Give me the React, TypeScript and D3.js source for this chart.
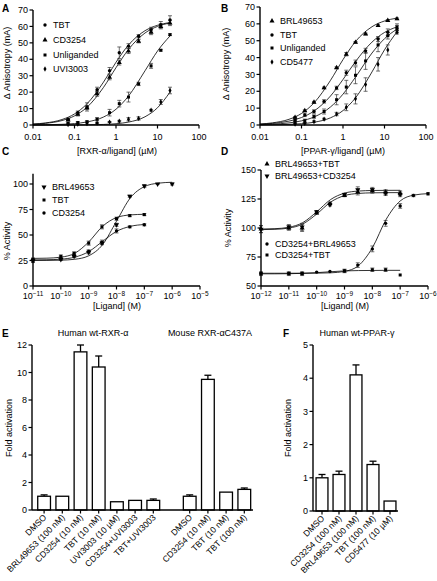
import React from 'react';
import * as d3 from 'd3';

// ---------- Panel A / B data (concentrations in µM) ----------
const concAB = [0.07, 0.12, 0.2, 0.35, 0.7, 1.2, 2, 3.5, 7, 12, 20];
const fitGridAB = [0.01, 0.02, 0.05, 0.1, 0.2, 0.5, 1, 2, 5, 10, 20];

const tbtA = [3.5, 7.5, 11, 21.5, 33, 44, 48, 54, 58, 61, 64];
const tbtAErr = [0.5, 1, 2.5, 1.5, 2, 3.5, 1.5, 1, 1.5, 2, 2.5];
const tbtAFit = [0.59, 1.26, 3.33, 6.74, 12.9, 26.1, 38.2, 48.7, 57.4, 60.7, 62.4];
const cd3254A = [3, 6.5, 10.5, 19, 29, 38, 45, 51, 56.5, 60, 62];
const cd3254AErr = [0.5, 1, 1, 1.5, 1.5, 1.5, 1.5, 1, 1.5, 1.5, 1.5];
const cd3254AFit = [0.48, 1.02, 2.71, 5.56, 10.8, 22.9, 34.9, 46.0, 56.0, 60.0, 62.1];
const unligA = [1, 1.5, 2, 3.5, 7.5, 13, 17, 25, 36, 45.5, 55];
const unligAErr = [0.3, 0.5, 0.5, 1, 2, 2, 3, 1, 1.5, 0.5, 0.5];
const unligAFit = [0.07, 0.15, 0.41, 0.88, 1.86, 4.86, 9.6, 17.6, 33, 45.0, 54.2];
const uviA = [0.3, 0.5, 0.8, 1.2, 1.8, 2.3, 3.5, 4, 9, 14, 21];
const uviAErr = [0, 0, 0, 0.3, 0.3, 0.5, 1, 1, 0.5, 1.5, 2];
const uviAFit = [0, 0.01, 0.02, 0.05, 0.11, 0.34, 0.78, 1.76, 5.0, 10.5, 20.0];

const brlB = [4.5, 8.5, 13.5, 22, 34, 42, 49, 54, 59, 62, 63];
const brlBErr = [0.5, 0.5, 0.5, 0.5, 0.5, 1, 0.5, 0.5, 0.5, 0.5, 0.5];
const brlBFit = [0.6, 1.28, 3.38, 6.85, 13.1, 26.5, 38.8, 49.5, 58.3, 61.7, 63.4];
const tbtB = [3, 6, 8, 14, 22, 31, 37, 44, 51, 55, 57];
const tbtBErr = [0.5, 1, 1, 1, 1, 1.5, 1.5, 1.5, 1.5, 2, 2];
const tbtBFit = [0.47, 0.94, 2.3, 4.43, 8.27, 17.2, 27.0, 37.6, 49.2, 54.9, 58.2];
const unligB = [1.5, 2.5, 5, 8, 15, 22.5, 29.5, 38, 47.5, 53, 58];
const unligBErr = [0.5, 1, 1, 1.5, 3, 4, 5, 5, 4, 2, 2];
const unligBFit = [0.25, 0.51, 1.25, 2.46, 4.74, 10.7, 18.3, 28.4, 42.7, 51.2, 56.9];
const cd5477B = [0.5, 1, 2, 3.5, 6.5, 10.5, 15.5, 24, 36, 44.5, 55];
const cd5477BErr = [0, 0.5, 0.5, 0.5, 1, 2, 3, 4, 4, 3, 1];
const cd5477BFit = [0.06, 0.13, 0.36, 0.77, 1.62, 4.27, 8.56, 16.1, 31.5, 44.6, 55.3];

const abTicks = [0.01, 0.1, 1, 10, 100];
const abTickLabels = ['0.01', '0.1', '1', '10', '100'];

// ---------- Panel C data (M) ----------
const concC = [1e-11, 1e-10, 3e-10, 1e-9, 3e-9, 1e-8, 3e-8, 1e-7, 3e-7, 1e-6];
const brlC = [25, 26, 29, 33, 42, 60, 88, 98, 100, 100];
const brlCErr = [2, 1, 1, 1.5, 1.5, 1.5, 1, 1.5, 0.5, 1];
const concC2 = [1e-11, 1e-10, 3e-10, 1e-9, 3e-9, 1e-8, 3e-8, 1e-7];
const tbtC = [26, 29, 32, 42, 58, 66, 69, 70];
const tbtCErr = [1.5, 1.5, 1.5, 2, 2, 1.5, 1, 1];
const cd3254C = [25, 27, 30, 34, 43, 54, 58, 60];
const cd3254CErr = [1.5, 1.5, 1.5, 1.5, 2, 2, 1, 1];
const fitGridCExp = [-11, -10.5, -10, -9.5, -9, -8.5, -8, -7.5, -7, -6.5, -6];
const brlCFit = [25.02, 25.08, 25.31, 26.2, 29.6, 40.5, 63.5, 86.5, 97.4, 100.8, 101.7];
const tbtCFit = [27.06, 27.29, 28.25, 32.08, 43.15, 58.5, 67.1, 69.7, 70.3];
const cd3254CFit = [25.57, 25.74, 26.32, 28.25, 33.66, 43.76, 53.54, 58.5, 60.27];
const cTickExp = [-11, -10, -9, -8, -7, -6, -5];
const cYTicks = [0, 25, 50, 75, 100];

// ---------- Panel D data (M) ----------
const concD = [1e-12, 1e-11, 3e-11, 1e-10, 3e-10, 1e-9, 3e-9, 1e-8, 3e-8, 1e-7];
const brlTbtD = [99, 100, 100, 113, 121, 128, 131, 132, 131, 130];
const brlTbtDErr = [3, 2, 3, 1, 1, 1, 2.5, 2, 2, 2];
const brlCdD = [99, 101, 101, 114, 120, 129, 133, 133, 130, 129];
const brlCdDErr = [3, 2, 3, 1, 1, 1, 2.5, 2, 2, 2];
const concD2 = [1e-12, 1e-11, 3e-11, 1e-10, 3e-10, 1e-9, 3e-9, 1e-8, 3e-8, 1e-7, 3e-7, 1e-6];
const cdBrlD = [61, 61, 61, 62, 62.5, 63, 68, 82, 104, 119, 128, 129.5];
const cdBrlDErr = [1, 1, 1, 0, 0, 1, 2, 2.5, 2.5, 2, 1, 1];
const concD3 = [1e-12, 1e-11, 3e-11, 1e-9, 1e-8, 3e-8, 1e-7];
const cdTbtD = [60.5, 60.5, 60.5, 63, 64, 64, 59.5];
const cdTbtDErr = [1.5, 1.5, 1.5, 1.5, 1.5, 1.5, 0];
const fitGridDExp = [-12, -11.5, -11, -10.5, -10, -9.5, -9, -8.5, -8, -7.5, -7, -6.5, -6];
const brlTbtDFit = [98.59, 98.87, 99.91, 103.45, 112.0, 122.3, 127.95, 129.8, 130.33, 130.46, 130.5];
const brlCdDFit = [99.11, 99.42, 100.62, 104.63, 113.92, 124.51, 130.06, 131.85, 132.33, 132.46, 132.5];
const cdBrlDFit = [61.0, 61.0, 61.0, 61.02, 61.08, 61.36, 62.58, 67.5, 82.9, 107.6, 123.3, 128.4, 129.6];
const cdTbtDFit = [60.5, 60.5, 60.6, 60.9, 61.5, 62.3, 63.0, 63.3, 63.4, 63.5, 63.5];
const dTickExp = [-12, -11, -10, -9, -8, -7, -6];
const dYTicks = [50, 75, 100, 125, 150];

// ---------- Panel E / F data ----------
const eHumanLabels = ['DMSO', 'BRL49653 (100 nM)', 'CD3254 (10 nM)', 'TBT (10 nM)', 'UVI3003 (10 µM)', 'CD3254+UVI3003', 'TBT+UVI3003'];
const eHumanValues = [1.0, 1.0, 11.5, 10.4, 0.6, 0.7, 0.7];
const eHumanErr = [0.1, 0, 0.5, 0.8, 0, 0, 0.1];
const eMouseLabels = ['DMSO', 'CD3254 (10 nM)', 'TBT (10 nM)', 'TBT (100 nM)'];
const eMouseValues = [1.0, 9.5, 1.3, 1.5];
const eMouseErr = [0.1, 0.3, 0, 0.1];
const eYTicks = [0, 2, 4, 6, 8, 10, 12];
const fLabels = ['DMSO', 'CD3254 (100 nM)', 'BRL49653 (100 nM)', 'TBT (100 nM)', 'CD5477 (10 µM)'];
const fValues = [1.0, 1.1, 4.1, 1.4, 0.3];
const fErr = [0.1, 0.1, 0.3, 0.1, 0];
const fYTicks = [0, 1, 2, 3, 4, 5];

const FONT = '"Liberation Sans", Arial, Helvetica, sans-serif';
const FS = 9;

type Pt = { c: number; v: number; e: number };
type Series = { pts: Pt[]; fit: [number, number][]; shape: string };

const zip = (xs: number[], ys: number[], es: number[]): Pt[] => xs.map((c, i) => ({ c, v: ys[i], e: es[i] }));
const zipFit = (xs: number[], ys: number[]): [number, number][] => ys.map((v, i) => [xs[i], v]);
const pow10 = (ks: number[]) => ks.map((k) => Math.pow(10, k));

function Marker({ shape, x, y }: { shape: string; x: number; y: number }) {
  const map: Record<string, [d3.SymbolType, number]> = {
    circle: [d3.symbolCircle, 9],
    triangle: [d3.symbolTriangle, 11],
    tridown: [d3.symbolTriangle, 11],
    square: [d3.symbolSquare, 9],
    diamond: [d3.symbolDiamond, 8],
  };
  const [t, s] = map[shape];
  const d = d3.symbol().type(t).size(s)() as string;
  return <path d={d} transform={`translate(${x},${y})${shape === 'tridown' ? ' rotate(180)' : ''}`} fill="#000" />;
}

function Sup({ x, y, exp }: { x: number; y: number; exp: number }) {
  return (
    <text x={x} y={y} textAnchor="middle" fontSize={FS}>
      10<tspan dy={-3.5} fontSize={6.5}>{'\u2212' + Math.abs(exp)}</tspan>
    </text>
  );
}

type PanelProps = {
  x0: number; x1: number; yb: number; yt: number;
  xDom: [number, number]; yDom: [number, number]; yAxisTop: number;
  yTicks: number[]; xTicks: number[]; xLabel: (v: number, i: number, x: number) => React.ReactNode;
  series: Series[];
  legend: { shape: string; text: string; x: number; y: number }[];
  xTitle: string; xTitleX: number; xTitleY: number;
  yTitle: string; yTitleX: number; yTitleY: number;
  letter: string; letterX: number; letterY: number;
};

function CurvePanel(p: PanelProps) {
  const x = d3.scaleLog().domain(p.xDom).range([p.x0, p.x1]);
  const y = d3.scaleLinear().domain(p.yDom).range([p.yb, p.yt]);
  const line = d3.line<[number, number]>().x((d) => x(d[0])).y((d) => y(d[1])).curve(d3.curveMonotoneX);
  const yBase = y(p.yDom[0]);
  return (
    <g>
      <text x={p.letterX} y={p.letterY} fontWeight="bold" fontSize={10}>{p.letter}</text>
      {p.series.map((s, i) => (
        <path key={'f' + i} d={line(s.fit) as string} fill="none" stroke="#000" strokeWidth={0.8} />
      ))}
      {p.series.map((s, i) =>
        s.pts.filter((d) => d.e > 0).map((d, j) => {
          const cx = x(d.c);
          const ya = y(d.v - d.e), yb = y(d.v + d.e);
          return (
            <g key={'e' + i + '-' + j} stroke="#333" strokeWidth={0.7}>
              <line x1={cx} x2={cx} y1={ya} y2={yb} />
              <line x1={cx - 2} x2={cx + 2} y1={ya} y2={ya} />
              <line x1={cx - 2} x2={cx + 2} y1={yb} y2={yb} />
            </g>
          );
        })
      )}
      {p.series.map((s, i) =>
        s.pts.map((d, j) => <Marker key={'m' + i + '-' + j} shape={s.shape} x={x(d.c)} y={y(d.v)} />)
      )}
      <line x1={p.x0} x2={p.x0} y1={yBase} y2={y(p.yAxisTop)} stroke="#000" strokeWidth={1.4} />
      <line x1={p.x0} x2={p.x1} y1={yBase} y2={yBase} stroke="#000" strokeWidth={1.4} />
      {p.yTicks.map((t) => (
        <g key={'yt' + t}>
          <line x1={p.x0 - 3.5} x2={p.x0} y1={y(t)} y2={y(t)} stroke="#000" strokeWidth={1.2} />
          <text x={p.x0 - 5} y={y(t) + 3.2} textAnchor="end" fontSize={FS}>{t}</text>
        </g>
      ))}
      {p.xTicks.map((t, i) => (
        <g key={'xt' + t}>
          <line x1={x(t)} x2={x(t)} y1={yBase} y2={yBase + 3.5} stroke="#000" strokeWidth={1.2} />
          {p.xLabel(t, i, x(t))}
        </g>
      ))}
      <text x={p.xTitleX} y={p.xTitleY} textAnchor="middle" fontSize={FS}>{p.xTitle}</text>
      <text transform={`translate(${p.yTitleX},${p.yTitleY}) rotate(-90)`} textAnchor="middle" fontSize={FS}>{p.yTitle}</text>
      {p.legend.map((l, i) => (
        <g key={'l' + i}>
          <Marker shape={l.shape} x={l.x} y={l.y} />
          <text x={l.x + 8} y={l.y + 3.2} fontSize={FS}>{l.text}</text>
        </g>
      ))}
    </g>
  );
}

type BarProps = {
  keys: string[]; labels: string[]; values: (number | null)[]; errs: number[];
  xl: number; xr: number; axisX: number; axisRight: number; yb: number; yt: number; yMax: number; yTicks: number[];
  yTitleX: number; yTitleY: number;
};

function BarPanel(p: BarProps) {
  const x = d3.scaleBand<string>().domain(p.keys).range([p.xl, p.xr]).paddingInner(0.3).paddingOuter(0.15);
  const y = d3.scaleLinear().domain([0, p.yMax]).range([p.yb, p.yt]);
  const bw = x.bandwidth();
  return (
    <g>
      {p.keys.map((k, i) => {
        const v = p.values[i];
        if (v === null) return null;
        const bx = x(k) as number;
        const cx = bx + bw / 2;
        const top = y(v);
        const e = p.errs[i];
        return (
          <g key={k}>
            {e > 0 && (
              <g stroke="#000" strokeWidth={1.3}>
                <line x1={cx} x2={cx} y1={top} y2={y(v + e)} />
                <line x1={cx - 3.5} x2={cx + 3.5} y1={y(v + e)} y2={y(v + e)} />
              </g>
            )}
            <rect x={bx} y={top} width={bw} height={y(0) - top} fill="#fff" stroke="#000" strokeWidth={1.3} />
            <line x1={cx} x2={cx} y1={y(0)} y2={y(0) + 3.5} stroke="#000" strokeWidth={1.2} />
            <text transform={`translate(${cx + 3},${y(0) + 8}) rotate(-45)`} textAnchor="end" fontSize={8.6}>{p.labels[i]}</text>
          </g>
        );
      })}
      <line x1={p.axisX} x2={p.axisX} y1={y(0)} y2={y(p.yMax)} stroke="#000" strokeWidth={1.4} />
      <line x1={p.axisX} x2={p.axisRight} y1={y(0)} y2={y(0)} stroke="#000" strokeWidth={1.4} />
      {p.yTicks.map((t) => (
        <g key={'t' + t}>
          <line x1={p.axisX - 3.5} x2={p.axisX} y1={y(t)} y2={y(t)} stroke="#000" strokeWidth={1.2} />
          <text x={p.axisX - 5} y={y(t) + 3.2} textAnchor="end" fontSize={FS}>{t}</text>
        </g>
      ))}
      <text transform={`translate(${p.yTitleX},${p.yTitleY}) rotate(-90)`} textAnchor="middle" fontSize={FS}>Fold activation</text>
    </g>
  );
}

export default function App() {
  const seriesA: Series[] = [
    { pts: zip(concAB, tbtA, tbtAErr), fit: zipFit(fitGridAB, tbtAFit), shape: 'circle' },
    { pts: zip(concAB, cd3254A, cd3254AErr), fit: zipFit(fitGridAB, cd3254AFit), shape: 'triangle' },
    { pts: zip(concAB, unligA, unligAErr), fit: zipFit(fitGridAB, unligAFit), shape: 'square' },
    { pts: zip(concAB, uviA, uviAErr), fit: zipFit(fitGridAB, uviAFit), shape: 'diamond' },
  ];
  const seriesB: Series[] = [
    { pts: zip(concAB, brlB, brlBErr), fit: zipFit(fitGridAB, brlBFit), shape: 'triangle' },
    { pts: zip(concAB, tbtB, tbtBErr), fit: zipFit(fitGridAB, tbtBFit), shape: 'circle' },
    { pts: zip(concAB, unligB, unligBErr), fit: zipFit(fitGridAB, unligBFit), shape: 'square' },
    { pts: zip(concAB, cd5477B, cd5477BErr), fit: zipFit(fitGridAB, cd5477BFit), shape: 'diamond' },
  ];
  const gC = pow10(fitGridCExp);
  const seriesC: Series[] = [
    { pts: zip(concC, brlC, brlCErr), fit: zipFit(gC, brlCFit), shape: 'tridown' },
    { pts: zip(concC2, tbtC, tbtCErr), fit: zipFit(gC, tbtCFit), shape: 'square' },
    { pts: zip(concC2, cd3254C, cd3254CErr), fit: zipFit(gC, cd3254CFit), shape: 'circle' },
  ];
  const gD = pow10(fitGridDExp);
  const seriesD: Series[] = [
    { pts: zip(concD, brlTbtD, brlTbtDErr), fit: zipFit(gD, brlTbtDFit), shape: 'triangle' },
    { pts: zip(concD, brlCdD, brlCdDErr), fit: zipFit(gD, brlCdDFit), shape: 'tridown' },
    { pts: zip(concD2, cdBrlD, cdBrlDErr), fit: zipFit(gD, cdBrlDFit), shape: 'circle' },
    { pts: zip(concD3, cdTbtD, cdTbtDErr), fit: zipFit(gD, cdTbtDFit), shape: 'square' },
  ];

  const abLabel = (v: number, i: number, px: number) => (
    <text x={px} y={140} textAnchor="middle" fontSize={FS}>{abTickLabels[i]}</text>
  );
  const supLabel = (v: number, i: number, px: number) => (
    <Sup x={px} y={299} exp={Math.round(Math.log10(v))} />
  );

  const eKeys = [...eHumanLabels.map((_, i) => 'h' + i), 'gap', ...eMouseLabels.map((_, i) => 'm' + i)];
  const eLabels = [...eHumanLabels, '', ...eMouseLabels];
  const eVals: (number | null)[] = [...eHumanValues, null, ...eMouseValues];
  const eErrs = [...eHumanErr, 0, ...eMouseErr];

  return (
    <svg width={437} height={581} style={{ position: 'absolute', left: 0, top: 0, background: '#fff' }} fontFamily={FONT}>
      <rect width={437} height={581} fill="#fff" />
      <CurvePanel
        x0={33} x1={199} yb={125} yt={10} xDom={[0.01, 100]} yDom={[0, 70]} yAxisTop={70}
        yTicks={[0, 10, 20, 30, 40, 50, 60, 70]} xTicks={abTicks} xLabel={abLabel}
        series={seriesA}
        legend={[
          { shape: 'circle', text: 'TBT', x: 45, y: 25 },
          { shape: 'triangle', text: 'CD3254', x: 45, y: 40 },
          { shape: 'square', text: 'Unliganded', x: 45, y: 55 },
          { shape: 'diamond', text: 'UVI3003', x: 45, y: 69 },
        ]}
        xTitle="[RXR-α/ligand] (µM)" xTitleX={117} xTitleY={154}
        yTitle="Δ Anisotropy (mA)" yTitleX={10} yTitleY={63}
        letter="A" letterX={2} letterY={12}
      />
      <CurvePanel
        x0={260} x1={426} yb={125} yt={7} xDom={[0.01, 100]} yDom={[0, 70]} yAxisTop={70}
        yTicks={[0, 10, 20, 30, 40, 50, 60, 70]} xTicks={abTicks} xLabel={abLabel}
        series={seriesB}
        legend={[
          { shape: 'triangle', text: 'BRL49653', x: 272, y: 21 },
          { shape: 'circle', text: 'TBT', x: 272, y: 35 },
          { shape: 'square', text: 'Unliganded', x: 272, y: 48 },
          { shape: 'diamond', text: 'CD5477', x: 272, y: 62 },
        ]}
        xTitle="[PPAR-γ/ligand] (µM)" xTitleX={343} xTitleY={154}
        yTitle="Δ Anisotropy (mA)" yTitleX={229} yTitleY={64}
        letter="B" letterX={221} letterY={12}
      />
      <CurvePanel
        x0={33} x1={200} yb={286} yt={184} xDom={[1e-11, 1e-5]} yDom={[0, 100]} yAxisTop={110}
        yTicks={cYTicks} xTicks={pow10(cTickExp)} xLabel={supLabel}
        series={seriesC}
        legend={[
          { shape: 'tridown', text: 'BRL49653', x: 44, y: 187 },
          { shape: 'square', text: 'TBT', x: 44, y: 200 },
          { shape: 'circle', text: 'CD3254', x: 44, y: 213 },
        ]}
        xTitle="[Ligand] (M)" xTitleX={117} xTitleY={309}
        yTitle="% Activity" yTitleX={10} yTitleY={241}
        letter="C" letterX={2} letterY={155}
      />
      <CurvePanel
        x0={261} x1={428} yb={286} yt={170} xDom={[1e-12, 1e-6]} yDom={[50, 150]} yAxisTop={150}
        yTicks={dYTicks} xTicks={pow10(dTickExp)} xLabel={supLabel}
        series={seriesD}
        legend={[
          { shape: 'triangle', text: 'BRL49653+TBT', x: 267, y: 164 },
          { shape: 'tridown', text: 'BRL49653+CD3254', x: 267, y: 176 },
          { shape: 'circle', text: 'CD3254+BRL49653', x: 267, y: 244 },
          { shape: 'square', text: 'CD3254+TBT', x: 267, y: 255 },
        ]}
        xTitle="[Ligand] (M)" xTitleX={345} xTitleY={309}
        yTitle="% Activity" yTitleX={231} yTitleY={228}
        letter="D" letterX={221} letterY={155}
      />

      <text x={2} y={337} fontWeight="bold" fontSize={10}>E</text>
      <text x={93} y={336} textAnchor="middle" fontSize={FS}>Human wt-RXR-α</text>
      <text x={210} y={336} textAnchor="middle" fontSize={FS}>Mouse RXR-αC437A</text>
      <BarPanel
        keys={eKeys} labels={eLabels} values={eVals} errs={eErrs}
        xl={35} xr={253.4} axisX={32} axisRight={253} yb={510} yt={345} yMax={12} yTicks={eYTicks}
        yTitleX={12} yTitleY={428}
      />

      <text x={283} y={337} fontWeight="bold" fontSize={10}>F</text>
      <text x={357} y={336} textAnchor="middle" fontSize={FS}>Human wt-PPAR-γ</text>
      <BarPanel
        keys={fLabels.map((_, i) => 'f' + i)} labels={fLabels} values={fValues} errs={fErr}
        xl={313.5} xr={398.5} axisX={313} axisRight={398} yb={511} yt={345} yMax={5} yTicks={fYTicks}
        yTitleX={291} yTitleY={428}
      />
    </svg>
  );
}
